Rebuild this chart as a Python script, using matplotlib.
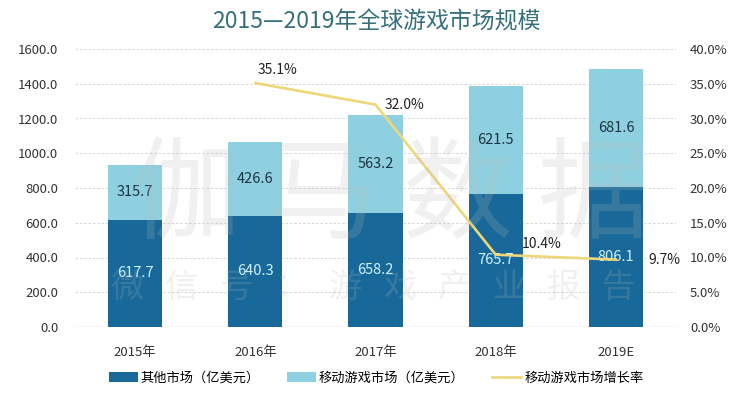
import matplotlib
matplotlib.use("Agg")
import matplotlib.pyplot as plt
from matplotlib.ticker import FuncFormatter, MultipleLocator

plt.rcParams['font.family'] = ['Noto Sans CJK SC', 'DejaVu Sans']

categories = ['2015年', '2016年', '2017年', '2018年', '2019E']
other_market = [617.7, 640.3, 658.2, 765.7, 806.1]
mobile_market = [315.7, 426.6, 563.2, 621.5, 681.6]
growth_years = ['2016年', '2017年', '2018年', '2019E']
growth_rate = [35.1, 32.0, 10.4, 9.7]

dark = '#18699A'
light = '#8ED0E0'
yellow = '#EED67A'

fig = plt.figure(figsize=(7.52, 3.93), dpi=100)
ax = fig.add_axes([75/752, 1-327/393, (676-75)/752, (327-49)/393])
ax2 = ax.twinx()

x = list(range(len(categories)))
ax.bar(x, other_market, width=0.45, color=dark, zorder=3, label='其他市场（亿美元）')
ax.bar(x, mobile_market, width=0.45, bottom=other_market, color=light, zorder=3,
       label='移动游戏市场（亿美元）')

for i, (o, m) in enumerate(zip(other_market, mobile_market)):
    ax.text(i, o/2, f'{o:.1f}', ha='center', va='center', color='#CFF3FF', fontsize=10.5, zorder=5)
    ax.text(i, o + m/2, f'{m:.1f}', ha='center', va='center', color='#1B3442', fontsize=10.5, zorder=5)

ax.set_xlim(-0.5, len(categories) - 0.5)
ax.set_ylim(0, 1600)
ax.yaxis.set_major_locator(MultipleLocator(200))
ax.yaxis.set_major_formatter(FuncFormatter(lambda v, p: f'{v:.1f}'))
ax.grid(axis='y', color='#D6D6D6', linestyle=(0, (2.5, 2)), linewidth=0.7, zorder=0)
ax.set_axisbelow(True)
for s in ax.spines.values():
    s.set_visible(False)
for s in ax2.spines.values():
    s.set_visible(False)
ax.axhline(0, color='#D8D8D8', linewidth=1, zorder=2)
ax.set_xticks(x)
ax.set_xticklabels(categories, fontsize=9.5, color='#333333')
ax.tick_params(axis='y', length=0, pad=12, labelsize=9.5, labelcolor='#333333')
ax.tick_params(axis='x', length=0, pad=14, labelsize=9.5, labelcolor='#333333')

gx = [categories.index(c) for c in growth_years]
ax2.plot(gx, growth_rate, color=yellow, linewidth=1.9, zorder=4, label='移动游戏市场增长率')
ax2.set_ylim(0, 40)
ax2.yaxis.set_major_locator(MultipleLocator(5))
ax2.yaxis.set_major_formatter(FuncFormatter(lambda v, p: f'{v:.1f}%'))
ax2.tick_params(axis='y', length=0, pad=10, labelsize=9.5, labelcolor='#333333')

offsets = [(0.02, 1.9), (0.08, 0.0), (0.22, 1.6), (0.27, 0.0)]
for gxi, g, (dx, dy) in zip(gx, growth_rate, offsets):
    ax2.text(gxi + dx, g + dy, f'{g:.1f}%', ha='left', va='center', fontsize=10, color='#222222', zorder=6)

# watermark
fig.text(390/752, 1-198/393, '伽 马 数 据', fontsize=80, color='#B8B8B8', alpha=0.2,
         ha='center', va='center', zorder=10)
wm_chars = '微信号：游戏产业报告'
for k, ch in enumerate(wm_chars):
    fig.text((127 + 54.6*k)/752, 1-287/393, ch, fontsize=24, color='#B8B8B8', alpha=0.2,
             ha='center', va='center', zorder=10)

fig.text(0.5, 1-22/393, '2015—2019年全球游戏市场规模', ha='center', va='center', fontsize=16.5,
         color='#36707A')

h1, l1 = ax.get_legend_handles_labels()
h2, l2 = ax2.get_legend_handles_labels()
fig.legend(h1 + h2, l1 + l2, loc='center', bbox_to_anchor=(0.5, 1-378/393), ncol=3, frameon=False,
           fontsize=9.5, handlelength=2.2, handleheight=0.8, columnspacing=2.1, handletextpad=0.2)

fig.savefig('out.png', dpi=100)
